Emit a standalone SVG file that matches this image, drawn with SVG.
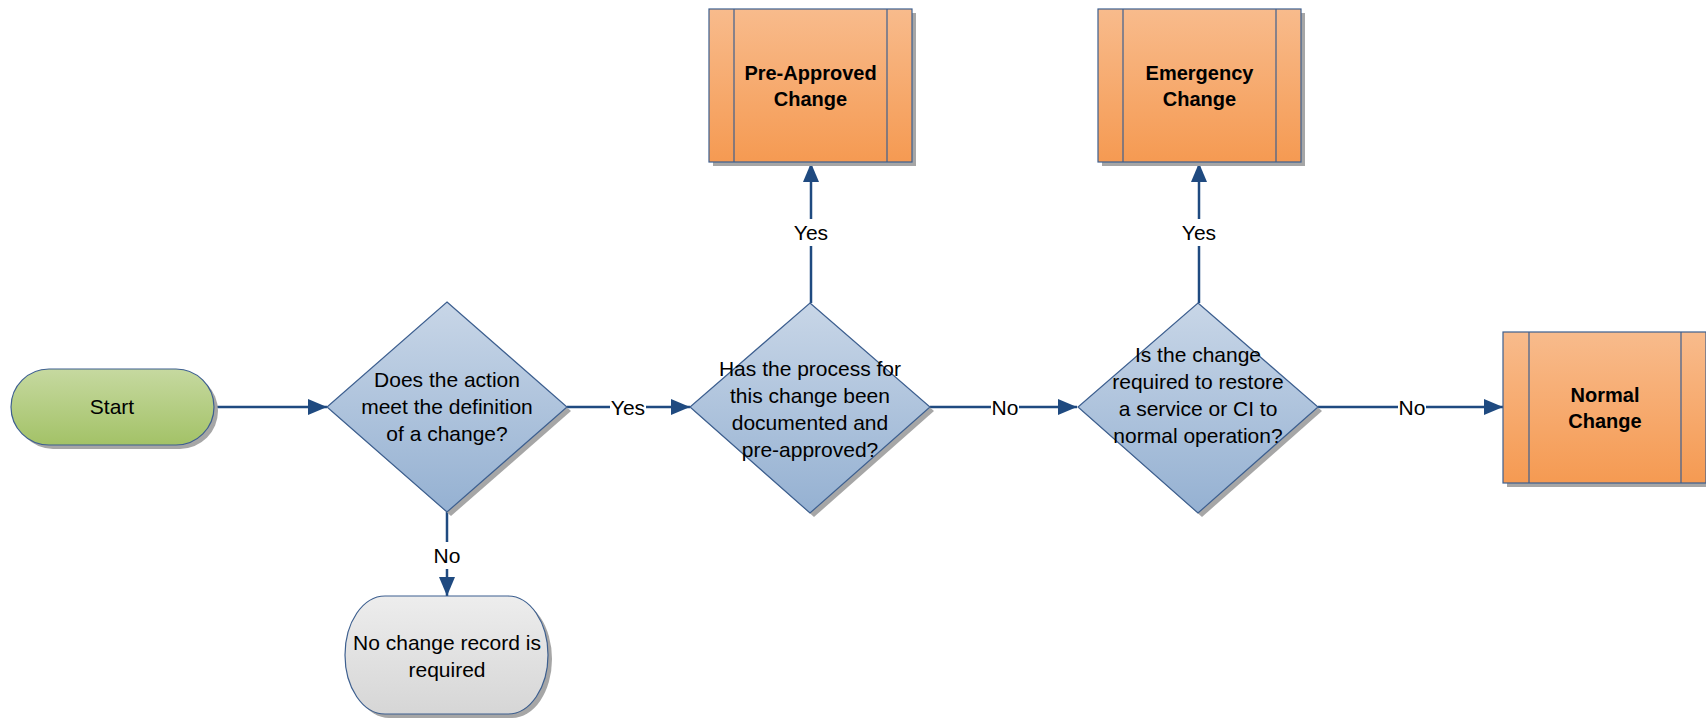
<svg xmlns="http://www.w3.org/2000/svg" width="1706" height="719" viewBox="0 0 1706 719">
<style>
text{font-family:"Liberation Sans",Arial,sans-serif;font-size:21px;fill:#000;text-anchor:middle}
.b{font-weight:bold;font-size:20px}
.sh{fill:#a6a6a6}
.shape{stroke:#3d5f8f;stroke-width:1.2}
.conn{stroke:#1f4a80;stroke-width:2.5;fill:none}
.lbl{fill:#fff}
.inner{stroke:#3d5f8f;stroke-width:1.2}
</style>
<defs>
<linearGradient id="gStart" x1="0" y1="0" x2="0" y2="1"><stop offset="0" stop-color="#c6d9a0"/><stop offset="1" stop-color="#a3c267"/></linearGradient>
<linearGradient id="gDia" x1="0" y1="0" x2="0" y2="1"><stop offset="0" stop-color="#c8d6e7"/><stop offset="1" stop-color="#95b1d2"/></linearGradient>
<linearGradient id="gOr" x1="0" y1="0" x2="0" y2="1"><stop offset="0" stop-color="#f8bb8c"/><stop offset="1" stop-color="#f59a52"/></linearGradient>
<linearGradient id="gGray" x1="0" y1="0" x2="0" y2="1"><stop offset="0" stop-color="#ededed"/><stop offset="1" stop-color="#d6d6d6"/></linearGradient>
<marker id="arr" markerUnits="userSpaceOnUse" markerWidth="20" markerHeight="18" refX="19" refY="8" orient="auto"><path d="M0,0 L19,8 L0,16 z" fill="#1f4a80"/></marker>
</defs>

<g id="connectors">
<line class="conn" x1="214" y1="407" x2="327" y2="407" marker-end="url(#arr)"/>
<line class="conn" x1="567" y1="407" x2="690" y2="407" marker-end="url(#arr)"/>
<rect class="lbl" x="610" y="396" width="36" height="24"/>
<text x="628" y="415">Yes</text>
<line class="conn" x1="930" y1="407" x2="1077" y2="407" marker-end="url(#arr)"/>
<rect class="lbl" x="991" y="396" width="28" height="24"/>
<text x="1005" y="415">No</text>
<line class="conn" x1="1318" y1="407" x2="1503" y2="407" marker-end="url(#arr)"/>
<rect class="lbl" x="1398" y="396" width="28" height="24"/>
<text x="1412" y="415">No</text>
<line class="conn" x1="447" y1="512" x2="447" y2="596" marker-end="url(#arr)"/>
<rect class="lbl" x="435" y="542" width="24" height="27"/>
<text x="447" y="563">No</text>
<line class="conn" x1="811" y1="303" x2="811" y2="163" marker-end="url(#arr)"/>
<rect class="lbl" x="793" y="219" width="36" height="27"/>
<text x="811" y="240">Yes</text>
<line class="conn" x1="1199" y1="303" x2="1199" y2="163" marker-end="url(#arr)"/>
<rect class="lbl" x="1181" y="219" width="36" height="27"/>
<text x="1199" y="240">Yes</text>
</g>

<g id="start">
<rect class="sh" x="15" y="373" width="203" height="76" rx="38"/>
<rect class="shape" x="11" y="369" width="203" height="76" rx="38" fill="url(#gStart)"/>
<text x="112" y="414">Start</text>
</g>

<g id="decision1">
<polygon class="sh" points="451,306 571,411 451,516 331,411"/>
<polygon class="shape" points="447,302 567,407 447,512 327,407" fill="url(#gDia)"/>
<text x="447" y="387">Does the action</text>
<text x="447" y="414">meet the definition</text>
<text x="447" y="441">of a change?</text>
</g>

<g id="decision2">
<polygon class="sh" points="814,307 934,411 814,517 694,411"/>
<polygon class="shape" points="810,303 930,407 810,513 690,407" fill="url(#gDia)"/>
<text x="810" y="376">Has the process for</text>
<text x="810" y="403">this change been</text>
<text x="810" y="430">documented and</text>
<text x="810" y="457">pre-approved?</text>
</g>

<g id="decision3">
<polygon class="sh" points="1202,307 1322,411 1202,517 1082,411"/>
<polygon class="shape" points="1198,303 1318,407 1198,513 1078,407" fill="url(#gDia)"/>
<text x="1198" y="362">Is the change</text>
<text x="1198" y="389">required to restore</text>
<text x="1198" y="416">a service or CI to</text>
<text x="1198" y="443">normal operation?</text>
</g>

<g id="preapproved">
<rect class="sh" x="713" y="13" width="203" height="153"/>
<rect class="shape" x="709" y="9" width="203" height="153" fill="url(#gOr)"/>
<line class="inner" x1="734" y1="9" x2="734" y2="162"/>
<line class="inner" x1="887" y1="9" x2="887" y2="162"/>
<text class="b" x="810.5" y="80">Pre-Approved</text>
<text class="b" x="810.5" y="106">Change</text>
</g>

<g id="emergency">
<rect class="sh" x="1102" y="13" width="203" height="153"/>
<rect class="shape" x="1098" y="9" width="203" height="153" fill="url(#gOr)"/>
<line class="inner" x1="1123" y1="9" x2="1123" y2="162"/>
<line class="inner" x1="1276" y1="9" x2="1276" y2="162"/>
<text class="b" x="1199.5" y="80">Emergency</text>
<text class="b" x="1199.5" y="106">Change</text>
</g>

<g id="normal">
<rect class="sh" x="1507" y="336" width="203" height="151"/>
<rect class="shape" x="1503" y="332" width="203" height="151" fill="url(#gOr)"/>
<line class="inner" x1="1529" y1="332" x2="1529" y2="483"/>
<line class="inner" x1="1681" y1="332" x2="1681" y2="483"/>
<text class="b" x="1605" y="402">Normal</text>
<text class="b" x="1605" y="428">Change</text>
</g>

<g id="norecord">
<rect class="sh" x="349" y="600" width="203" height="118" rx="40" ry="59"/>
<rect class="shape" x="345" y="596" width="203" height="118" rx="40" ry="59" fill="url(#gGray)"/>
<text x="447" y="650">No change record is</text>
<text x="447" y="677">required</text>
</g>
</svg>
